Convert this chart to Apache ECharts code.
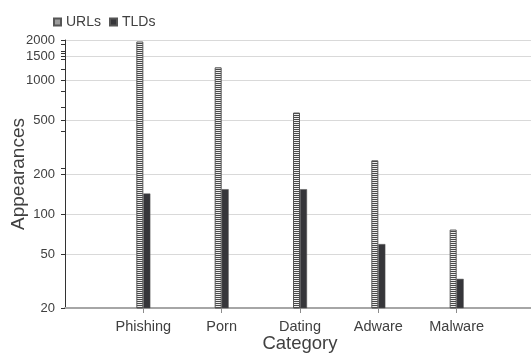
<!DOCTYPE html>
<html>
<head>
<meta charset="utf-8">
<style>
  html, body { margin: 0; padding: 0; background: #fff; }
  #chart { width: 531px; height: 354px; }
</style>
<script src="https://cdn.jsdelivr.net/npm/echarts@6/dist/echarts.min.js"></script>
</head>
<body>
<div id="chart"></div>
<script>
// Categories (blank slots pad both ends of the axis)
const categories = ['', 'Phishing', 'Porn', 'Dating', 'Adware', 'Malware', ''];
// Appearances per category
const urlValues = [null, 1950, 1250, 575, 253, 77, null];
const tldValues = [null, 143, 154, 154, 60, 33, null];
// Y axis tick labels (log scale)
const yTicks = [20, 50, 100, 200, 500, 1000, 1500, 2000];
const yMinorTicks = [220, 420, 630, 830, 1220, 1440, 1590, 1660, 1850];

// Horizontal hatch fill for the URL bars
function hatch() {
  const c = document.createElement('canvas');
  c.width = 1; c.height = 2;
  const g = c.getContext('2d');
  g.fillStyle = '#eeeeee'; g.fillRect(0, 0, 1, 1);
  g.fillStyle = '#4a4a4a'; g.fillRect(0, 1, 1, 1);
  return c;
}

const font = '"Liberation Sans", Arial, sans-serif';
const textColor = '#404040';

const chart = echarts.init(document.getElementById('chart'), null, { renderer: 'canvas' });
chart.setOption({
  animation: false,
  textStyle: { fontFamily: font },
  legend: {
    left: 48, top: 10,
    icon: 'rect',
    itemWidth: 7, itemHeight: 7, itemGap: 8,
    textStyle: { fontSize: 14, color: textColor, fontFamily: font },
    data: ['URLs', 'TLDs']
  },
  grid: { left: 65, top: 40, width: 470, bottom: 46, containLabel: false, outerBoundsMode: 'none' },
  xAxis: {
    type: 'category',
    data: categories,
    boundaryGap: false,
    name: 'Category',
    nameLocation: 'middle',
    nameGap: 26,
    nameMoveOverlap: false,
    nameTextStyle: { fontSize: 18.5, color: textColor, fontFamily: font },
    axisLine: { lineStyle: { color: '#a6a6a6', width: 2 } },
    axisTick: {
      length: 5,
      interval: (i, v) => v !== '',
      lineStyle: { color: '#8c8c8c' }
    },
    axisLabel: { fontSize: 14.5, color: textColor, fontFamily: font, margin: 11, interval: 0 }
  },
  yAxis: [{
    type: 'log',
    logBase: 10,
    min: 20, max: 2000,
    name: 'Appearances',
    nameLocation: 'middle',
    nameGap: 37,
    nameMoveOverlap: false,
    nameTextStyle: { fontSize: 19, color: textColor, fontFamily: font },
    axisLine: { show: true, lineStyle: { color: '#333', width: 1 } },
    axisTick: { show: true, length: 4, customValues: yTicks, lineStyle: { color: '#333' } },
    axisLabel: {
      customValues: yTicks, fontSize: 13, color: textColor, fontFamily: font, margin: 10,
      formatter: v => String(Math.round(v))
    },
    splitLine: { show: true, lineStyle: { color: '#d9d9d9', width: 1 } }
  }, {
    type: 'log',
    logBase: 10,
    min: 20, max: 2000,
    position: 'left',
    axisLine: { show: false },
    axisTick: { show: true, length: 4, customValues: yMinorTicks, lineStyle: { color: '#333' } },
    axisLabel: { show: false },
    splitLine: { show: false }
  }],
  series: [{
    name: 'URLs',
    type: 'bar',
    data: urlValues,
    barWidth: 7,
    barGap: '0%',
    itemStyle: {
      color: { image: hatch(), repeat: 'repeat' },
      borderColor: '#555',
      borderWidth: 1
    }
  }, {
    name: 'TLDs',
    type: 'bar',
    data: tldValues,
    barWidth: 7,
    barGap: '0%',
    itemStyle: { color: '#36363a', borderColor: '#555', borderWidth: 0.5 }
  }]
});
</script>
</body>
</html>
